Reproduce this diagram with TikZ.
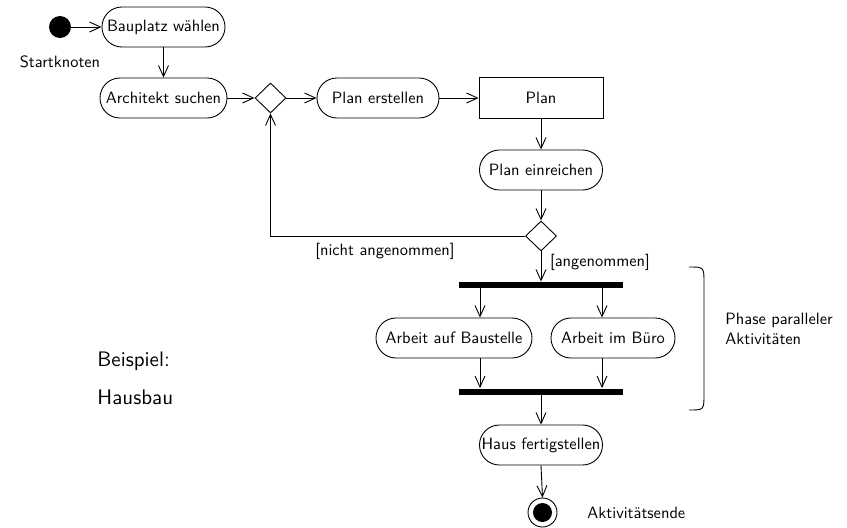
\documentclass[tikz,border=0pt]{standalone}
\usepackage{fontspec}
\setsansfont{lmsans10-regular.otf}
\usetikzlibrary{arrows.meta,shapes.geometric}
\begin{document}
\begin{tikzpicture}[x=1pt,y=-1pt,
  font=\sffamily\fontsize{16.4}{19.5}\selectfont,
  line width=0.9pt,
  action/.style={draw, rounded corners=19.9pt, minimum height=40pt, inner sep=0pt},
  objbox/.style={draw, minimum height=41pt, minimum width=124pt, inner sep=0pt},
  decision/.style={draw, diamond, minimum width=31pt, minimum height=30pt, inner sep=0pt},
  bar/.style={fill=black, minimum width=164pt, minimum height=6pt, inner sep=0pt},
  flow/.style={-{Straight Barb[length=11pt,width=10pt]}},
  lbl/.style={inner sep=0pt}]
\useasboundingbox (0,0) rectangle (847,528);

% start node
\node (start) [circle, fill=black, minimum size=22pt, inner sep=0pt] at (60,27) {};
\node (startlbl) [lbl] at (60,62) {Startknoten};

% actions of the upper part
\node (baup) [action, minimum width=123pt] at (163.5,27) {Bauplatz wählen};
\node (arch) [action, minimum width=127pt] at (163.5,98) {Architekt suchen};
\node (d1) [decision] at (270.5,98) {};
\node (erst) [action, minimum width=122pt] at (378,98) {Plan erstellen};
\node (plan) [objbox] at (541,98) {Plan};
\node (einr) [action, minimum width=123pt] at (541,170) {Plan einreichen};
\node (d2) [decision] at (541,236) {};

% parallel phase
\node (fork) [bar] at (541,285) {};
\coordinate (c1) at (480,0);
\coordinate (c2) at (602,0);
\node (baust) [action, minimum width=156pt] at (454,338) {Arbeit auf Baustelle};
\node (buero) [action, minimum width=124pt] at (613,338) {Arbeit im Büro};
\node (join) [bar] at (541,391.5) {};
\node (haus) [action, minimum width=123pt] at (541,445) {Haus fertigstellen};

% final node
\node (final) [circle, draw, minimum size=29pt, inner sep=0pt] at (542.5,512.5) {};
\fill (final.center) circle (9.5pt);
\node (endlbl) [lbl, anchor=west] at (587,513) {Aktivitätsende};

% control flow
\draw[flow] (start) -- (baup);
\draw[flow] (baup) -- (arch);
\draw[flow] (arch) -- (d1);
\draw[flow] (d1) -- (erst);
\draw[flow] (erst) -- (plan);
\draw[flow] (plan) -- (einr);
\draw[flow] (einr) -- (d2);
\draw[flow] (d2.west) -| (d1.south);
\draw[flow] (d2.south) -- (fork.north);
\draw[flow] (fork.south -| c1) -- (baust.north -| c1);
\draw[flow] (fork.south -| c2) -- (buero.north -| c2);
\draw[flow] (baust.south -| c1) -- (join.north -| c1);
\draw[flow] (buero.south -| c2) -- (join.north -| c2);
\draw[flow] (join.south) -- (haus.north);
\draw[flow] (haus.south) -- (final.north);

% guards
\node (g1) [lbl] at (385,251) {[nicht angenommen]};
\node (g2) [lbl] at (600,262) {[angenommen]};

% brace around the parallel phase
\draw (689,267) .. controls (704,267) .. (704,283) -- (704,394)
      .. controls (704,410) .. (689,410);
\node (phase) [lbl, anchor=west, align=left] at (725,329) {Phase paralleler\\Aktivitäten};

% caption
\node (ex1) [lbl, anchor=base west, font=\sffamily\fontsize{21}{25}\selectfont] at (97,366) {Beispiel:};
\node (ex2) [lbl, anchor=base west, font=\sffamily\fontsize{21}{25}\selectfont] at (97,404) {Hausbau};
\end{tikzpicture}
\end{document}
